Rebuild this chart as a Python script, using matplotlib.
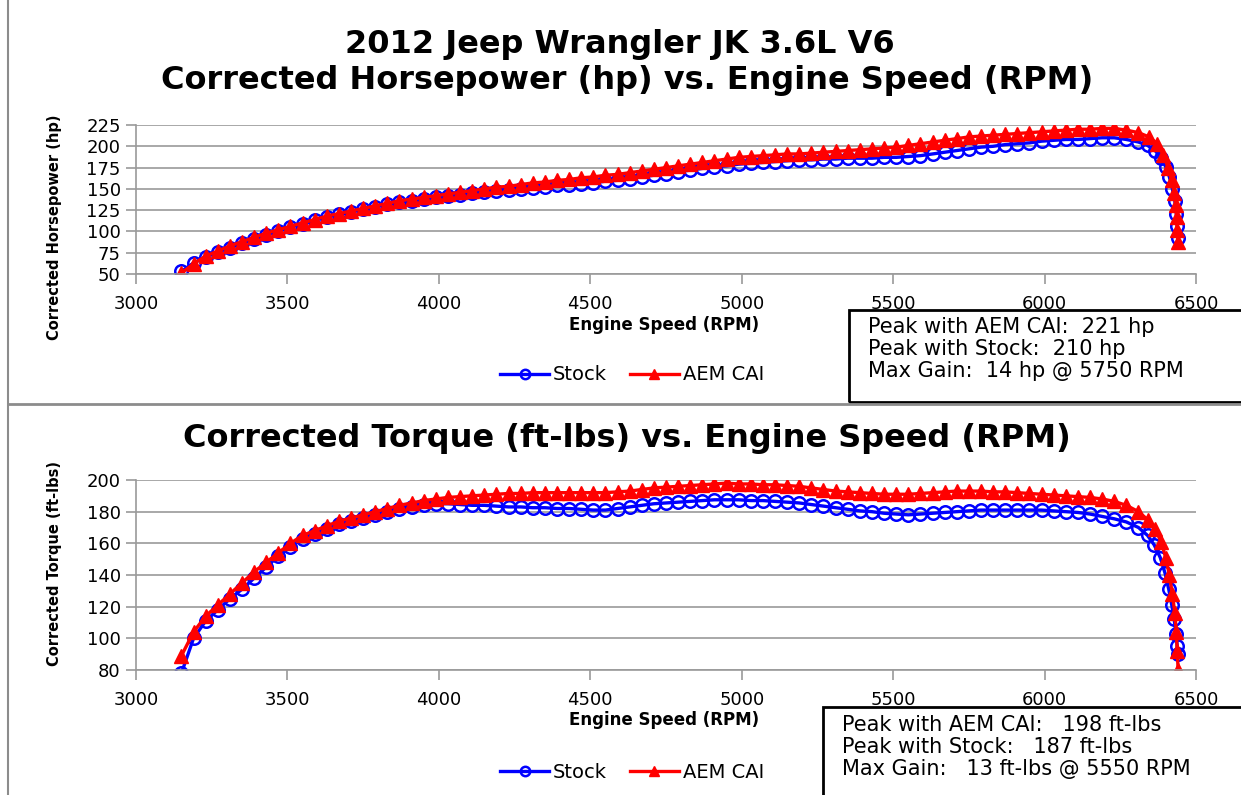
import matplotlib
matplotlib.use("Agg")
import matplotlib.pyplot as plt
from matplotlib.lines import Line2D
from matplotlib.patches import Rectangle

# RPM samples shared by the main part of every curve
rpm_main = [
    3150, 3190, 3230, 3270, 3310, 3350, 3390, 3430, 3470, 3510,
    3550, 3590, 3630, 3670, 3710, 3750, 3790, 3830, 3870, 3910,
    3950, 3990, 4030, 4070, 4110, 4150, 4190, 4230, 4270, 4310,
    4350, 4390, 4430, 4470, 4510, 4550, 4590, 4630, 4670, 4710,
    4750, 4790, 4830, 4870, 4910, 4950, 4990, 5030, 5070, 5110,
    5150, 5190, 5230, 5270, 5310, 5350, 5390, 5430, 5470, 5510,
    5550, 5590, 5630, 5670, 5710, 5750, 5790, 5830, 5870, 5910,
    5950, 5990, 6030, 6070, 6110, 6150, 6190, 6230, 6270, 6310,
]

hp_stock_main = [
    53, 63, 70, 76, 81, 86, 91, 96, 101, 105,
    109, 113, 117, 120, 123, 126, 129, 132, 134, 136,
    138, 140, 142, 143, 145, 146, 147, 149, 150, 151,
    152, 154, 155, 156, 157, 159, 160, 162, 164, 166,
    168, 170, 172, 174, 176, 177, 179, 180, 181, 182,
    183, 184, 184, 185, 185, 186, 186, 186, 187, 187,
    188, 189, 191, 193, 195, 197, 199, 200, 202, 203,
    204, 206, 207, 208, 208, 209, 210, 210, 208, 205,
]
hp_aem_main = [
    51, 62, 71, 77, 83, 88, 93, 98, 102, 106,
    110, 114, 118, 121, 124, 127, 130, 133, 136, 138,
    140, 142, 144, 146, 148, 150, 152, 153, 155, 157,
    158, 160, 161, 163, 164, 166, 167, 169, 171, 173,
    175, 177, 179, 181, 183, 185, 187, 188, 189, 190,
    191, 191, 192, 193, 194, 195, 196, 197, 198, 199,
    201, 203, 205, 207, 209, 211, 212, 213, 214, 215,
    216, 217, 218, 219, 220, 220, 221, 221, 219, 216,
]
tq_stock_main = [
    78, 100, 111, 118, 125, 131, 138, 145, 152, 158,
    163, 166, 169, 172, 174, 176, 178, 180, 182, 183,
    184, 185, 185, 184.5, 184, 184, 183.5, 183, 183, 182.5,
    182.5, 182, 182, 181.5, 181, 181, 182, 183, 184, 185,
    185.5, 186, 186.5, 187, 187.5, 187.5, 187.5, 187, 187, 186.5,
    186, 185.5, 184.5, 183.5, 182.5, 181.5, 180.5, 180, 179, 178.5,
    178, 178.5, 179, 179.5, 180, 180.5, 181, 181, 181, 181,
    181, 181, 180.5, 180, 179.5, 178.5, 177, 175.5, 173.5, 170,
]
tq_aem_main = [
    89, 104, 114, 121, 128, 135, 142, 148, 154, 160,
    165, 168, 171, 174, 176, 178, 180, 182, 184, 185.5,
    187, 188, 189, 189.5, 190, 190.5, 191, 191.5, 191.5, 192,
    192, 192, 192, 192, 192, 192, 192.5, 193, 194, 195,
    195.5, 196, 196.5, 197, 197.5, 198, 197.5, 197.5, 197, 197,
    196.5, 196, 195, 194, 193, 192.5, 192, 191.5, 191, 191,
    191, 191.5, 192, 192.5, 193, 193, 193, 192.5, 192.5, 192,
    191.5, 191, 190.5, 190, 189.5, 189, 188, 186.5, 184, 180,
]

# steep drop-off at the rev limiter
hp_stock_tail_rpm = [6340, 6365, 6385, 6400, 6412, 6422, 6430, 6435, 6438, 6440]
hp_stock_tail = [201, 195, 186, 176, 164, 150, 136, 121, 106, 92]
hp_aem_tail_rpm = [6345, 6372, 6392, 6408, 6420, 6428, 6433, 6436, 6438, 6440]
hp_aem_tail = [211, 203, 190, 175, 160, 145, 131, 117, 102, 88]
tq_stock_tail_rpm = [6340, 6362, 6382, 6398, 6410, 6420, 6428, 6434, 6438, 6441]
tq_stock_tail = [165, 159, 151, 141, 131, 121, 112, 103, 95, 90]
tq_aem_tail_rpm = [6340, 6365, 6385, 6400, 6412, 6422, 6430, 6435, 6438, 6441]
tq_aem_tail = [175, 169, 161, 151, 140, 128, 116, 104, 92, 80]

x_ticks = [3000, 3500, 4000, 4500, 5000, 5500, 6000, 6500]
hp_ticks = [50, 75, 100, 125, 150, 175, 200, 225]
tq_ticks = [80, 100, 120, 140, 160, 180, 200]

hp_notes = ["Peak with AEM CAI:  221 hp",
            "Peak with Stock:  210 hp",
            "Max Gain:  14 hp @ 5750 RPM"]
tq_notes = ["Peak with AEM CAI:   198 ft-lbs",
            "Peak with Stock:   187 ft-lbs",
            "Max Gain:   13 ft-lbs @ 5550 RPM"]

W, H = 1241, 795
GRID = "#9a9a9a"


def fx(px):
    return px / W


def fy(py):
    return 1 - py / H


def style_axes(ax, yticks):
    ax.set_xlim(3000, 6500)
    ax.set_ylim(yticks[0], yticks[-1])
    ax.set_xticks(x_ticks)
    ax.set_yticks(yticks)
    ax.yaxis.grid(True, color=GRID, linewidth=1.2)
    ax.set_axisbelow(True)
    for s in ["top", "right"]:
        ax.spines[s].set_visible(False)
    for s in ["left", "bottom"]:
        ax.spines[s].set_color(GRID)
        ax.spines[s].set_linewidth(1.2)
    ax.tick_params(axis="both", colors=GRID, labelcolor="black",
                   labelsize=13, direction="out", length=7, width=1.2)
    ax.tick_params(axis="x", pad=8)
    ax.tick_params(axis="y", pad=4)


def draw(ax, xs, ys, xa, ya):
    ax.plot(xs, ys, color="#0000ff", linewidth=2.4, marker="o",
            markerfacecolor="none", markeredgecolor="#0000ff",
            markeredgewidth=1.8, markersize=9, label="Stock")
    ax.plot(xa, ya, color="#ff0000", linewidth=2.4, marker="^",
            markerfacecolor="#ff0000", markeredgecolor="#ff0000",
            markersize=10, label="AEM CAI")


fig = plt.figure(figsize=(W / 100, H / 100), dpi=100)

# ---- horsepower panel
ax1 = fig.add_axes([fx(136), fy(274), fx(1196) - fx(136), fy(125) - fy(274)])
draw(ax1, rpm_main + hp_stock_tail_rpm, hp_stock_main + hp_stock_tail,
     rpm_main + hp_aem_tail_rpm, hp_aem_main + hp_aem_tail)
style_axes(ax1, hp_ticks)

# ---- torque panel
ax2 = fig.add_axes([fx(136), fy(670), fx(1196) - fx(136), fy(480) - fy(670)])
draw(ax2, rpm_main + tq_stock_tail_rpm, tq_stock_main + tq_stock_tail,
     rpm_main + tq_aem_tail_rpm, tq_aem_main + tq_aem_tail)
style_axes(ax2, tq_ticks)

# titles
fig.text(fx(620), fy(44), "2012 Jeep Wrangler JK 3.6L V6", ha="center",
         va="center", fontsize=23, fontweight="bold")
fig.text(fx(627), fy(81), "Corrected Horsepower (hp) vs. Engine Speed (RPM)",
         ha="center", va="center", fontsize=23, fontweight="bold")
fig.text(fx(627), fy(438), "Corrected Torque (ft-lbs) vs. Engine Speed (RPM)",
         ha="center", va="center", fontsize=23, fontweight="bold")

# axis labels
for py in (325, 720):
    fig.text(fx(664), fy(py), "Engine Speed (RPM)", ha="center", va="center",
             fontsize=12, fontweight="bold")
fig.text(fx(55), fy(227), "Corrected Horsepower (hp)", ha="center",
         va="center", rotation=90, fontsize=10.5, fontweight="bold")
fig.text(fx(55), fy(563), "Corrected Torque (ft-lbs)", ha="center",
         va="center", rotation=90, fontsize=10.5, fontweight="bold")

# legends
handles, labels = ax1.get_legend_handles_labels()
for py in (375, 772):
    fig.legend(handles, labels, loc="center", bbox_to_anchor=(fx(632), fy(py)),
               ncol=2, frameon=False, fontsize=14, handlelength=2.5,
               columnspacing=1.2, handletextpad=0.2, markerscale=0.75)

# note boxes
fig.add_artist(Rectangle((fx(849), fy(402)), 1, fy(310) - fy(402),
                         transform=fig.transFigure, fill=False,
                         edgecolor="black", linewidth=2))
fig.add_artist(Rectangle((fx(823), fy(820)), 1, fy(707) - fy(820),
                         transform=fig.transFigure, fill=False,
                         edgecolor="black", linewidth=2))
for i, t in enumerate(hp_notes):
    fig.text(fx(868), fy(327 + 22 * i), t, ha="left", va="center", fontsize=15)
for i, t in enumerate(tq_notes):
    fig.text(fx(842), fy(725 + 22 * i), t, ha="left", va="center", fontsize=15)

# chart frame lines
fig.add_artist(Line2D([fx(8), fx(8)], [0, 1], transform=fig.transFigure,
                      color="#8c8c8c", linewidth=1.5))
fig.add_artist(Line2D([fx(8), 1], [fy(404), fy(404)], transform=fig.transFigure,
                      color="#8c8c8c", linewidth=2))

fig.savefig("out.png", dpi=100)
